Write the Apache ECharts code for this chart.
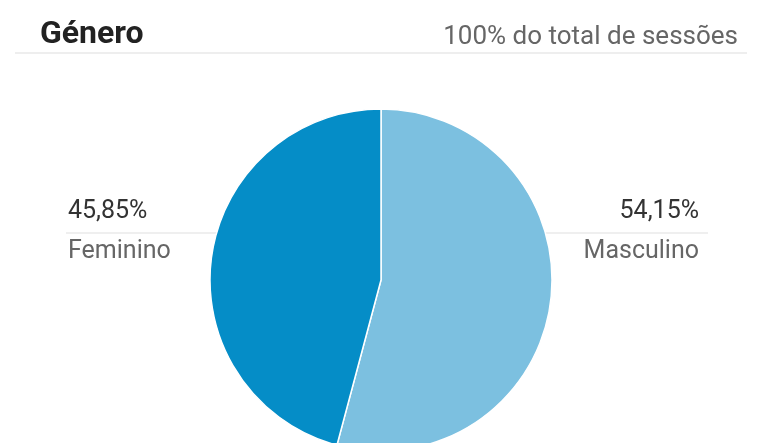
<!DOCTYPE html>
<html><head><meta charset="utf-8">
<script src="https://cdn.jsdelivr.net/npm/echarts@6/dist/echarts.min.js"></script>
<style>html,body{margin:0;padding:0;background:#fff}#c{width:762px;height:443px}</style>
</head><body><div id="c"></div>
<script>
var categories = ['Masculino', 'Feminino'];
var values = [54.15, 45.85];
var colors = ['#7cc0e0', '#058dc7'];
var titleText = 'Género';
var subtitleText = '100% do total de sessões';

var chart = echarts.init(document.getElementById('c'));
chart.setOption({
  animation: false,
  title: [
    {text: titleText, left: 35, top: 14, textStyle: {fontFamily: 'Roboto', fontSize: 32, fontWeight: 'bold', color: '#222'}},
    {text: subtitleText, right: 19, top: 19, textStyle: {fontFamily: 'Roboto', fontSize: 26, fontWeight: 'normal', color: '#666'}}
  ],
  graphic: [{type: 'line', shape: {x1: 15, y1: 53, x2: 747, y2: 53}, style: {stroke: '#e8e8e8', lineWidth: 1.5}}],
  series: [{
    type: 'pie',
    center: ['50%', 280],
    radius: 171,
    startAngle: 90,
    clockwise: true,
    data: categories.map(function (c, i) { return {name: c, value: values[i], itemStyle: {color: colors[i]}}; }),
    itemStyle: {borderColor: '#fff', borderWidth: 1.5},
    label: {
      show: true,
      position: 'outside',
      formatter: function (p) { return '{p|' + p.value.toFixed(2).replace('.', ',') + '%}\n{n|' + p.name + '}'; },
      rich: {
        p: {fontFamily: 'Roboto', fontSize: 25, color: '#333', lineHeight: 40},
        n: {fontFamily: 'Roboto', fontSize: 25, color: '#666', lineHeight: 40}
      }
    },
    labelLine: {show: true, lineStyle: {color: 'rgba(215,215,215,0.8)', width: 1.2}},
    labelLayout: function (params) {
      if (params.dataIndex === 0) {
        return {x: 699, y: 232, align: 'right', verticalAlign: 'middle',
          labelLinePoints: [[527, 233], [600, 233], [708, 233]]};
      }
      return {x: 68, y: 232, align: 'left', verticalAlign: 'middle',
        labelLinePoints: [[237, 233], [160, 233], [66, 233]]};
    },
    emphasis: {disabled: true}
  }]
});
</script></body></html>
